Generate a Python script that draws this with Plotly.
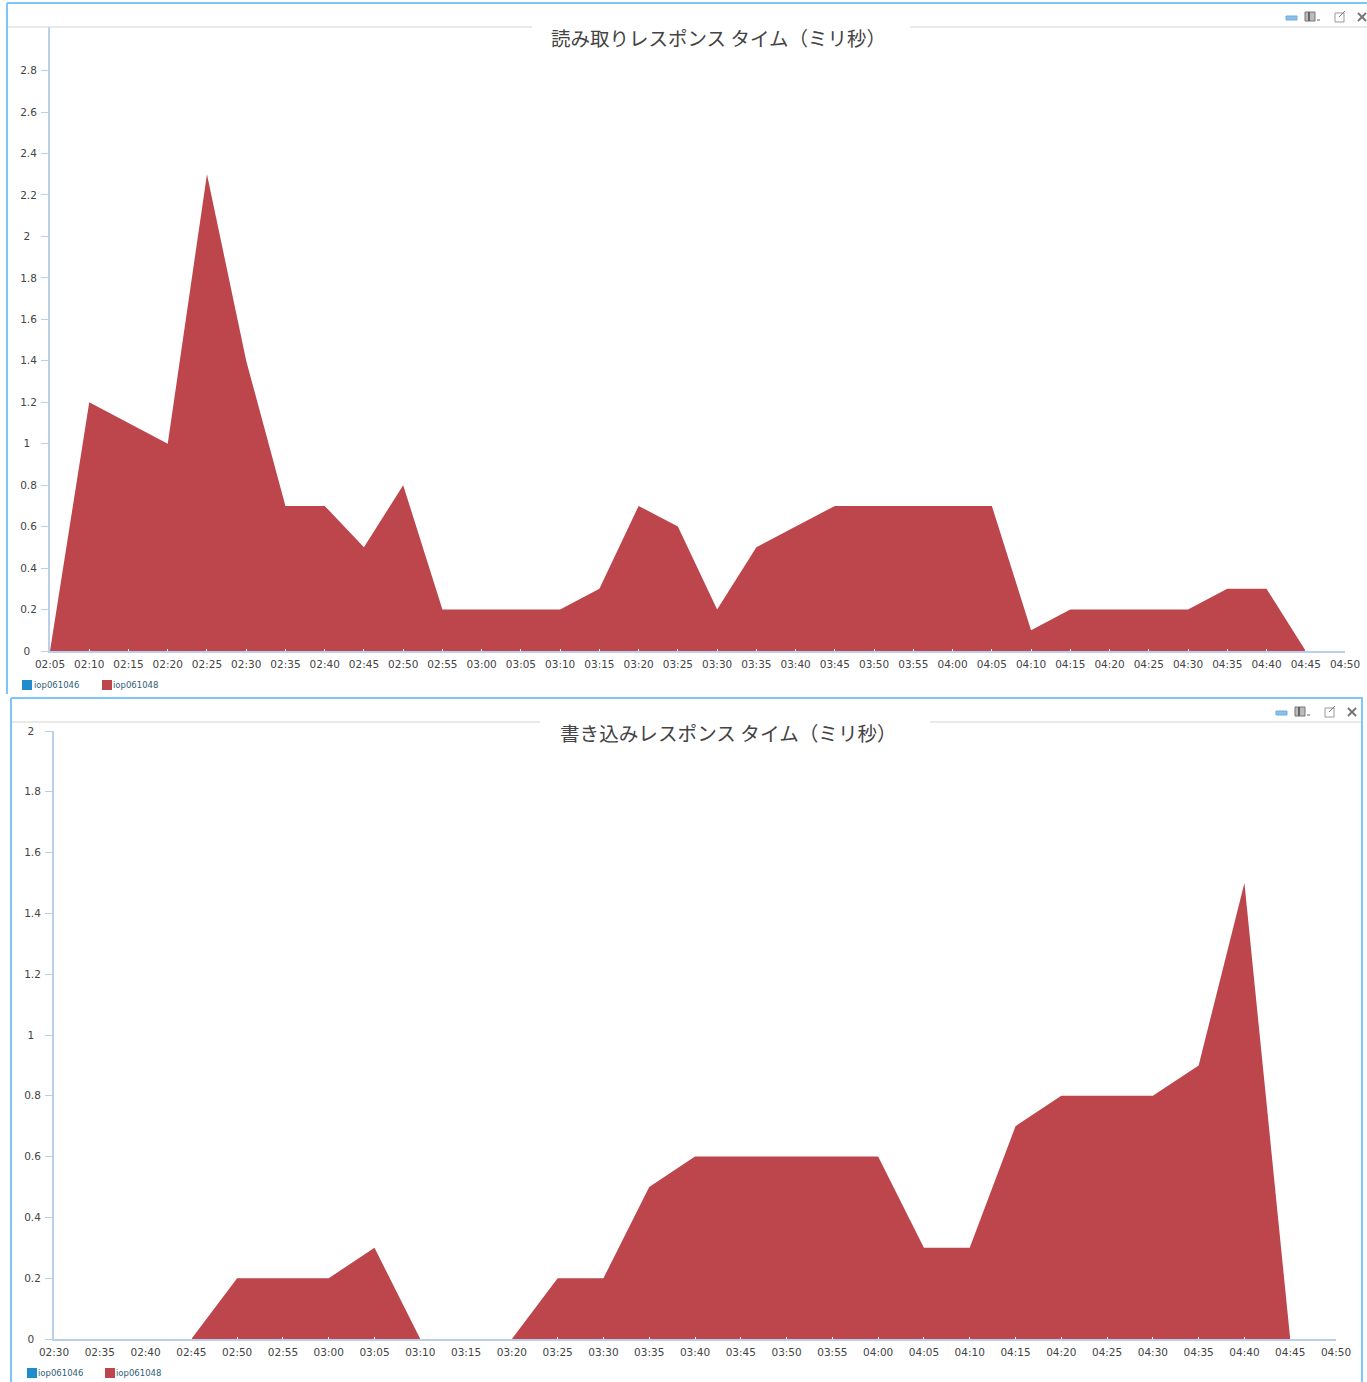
import plotly.graph_objects as go

# read response chart
read_times = ["02:05", "02:10", "02:15", "02:20", "02:25", "02:30", "02:35", "02:40", "02:45", "02:50", "02:55",
              "03:00", "03:05", "03:10", "03:15", "03:20", "03:25", "03:30", "03:35", "03:40", "03:45", "03:50",
              "03:55", "04:00", "04:05", "04:10", "04:15", "04:20", "04:25", "04:30", "04:35", "04:40", "04:45", "04:50"]
read_046 = [0] * 34
read_048 = [0, 1.2, 1.1, 1.0, 2.3, 1.4, 0.7, 0.7, 0.5, 0.8, 0.2,
            0.2, 0.2, 0.2, 0.3, 0.7, 0.6, 0.2, 0.5, 0.6, 0.7, 0.7,
            0.7, 0.7, 0.7, 0.1, 0.2, 0.2, 0.2, 0.2, 0.3, 0.3, 0, 0]
read_ticks = [0, 0.2, 0.4, 0.6, 0.8, 1, 1.2, 1.4, 1.6, 1.8, 2, 2.2, 2.4, 2.6, 2.8]

# write response chart
write_times = ["02:30", "02:35", "02:40", "02:45", "02:50", "02:55",
               "03:00", "03:05", "03:10", "03:15", "03:20", "03:25", "03:30", "03:35", "03:40", "03:45", "03:50",
               "03:55", "04:00", "04:05", "04:10", "04:15", "04:20", "04:25", "04:30", "04:35", "04:40", "04:45", "04:50"]
write_046 = [0] * 29
write_048 = [0, 0, 0, 0, 0.2, 0.2,
             0.2, 0.3, 0, 0, 0, 0.2, 0.2, 0.5, 0.6, 0.6, 0.6,
             0.6, 0.6, 0.3, 0.3, 0.7, 0.8, 0.8, 0.8, 0.9, 1.5, 0, 0]
write_ticks = [0, 0.2, 0.4, 0.6, 0.8, 1, 1.2, 1.4, 1.6, 1.8, 2]

W, H = 1367, 1382
BLUE = "#1F8DCD"
RED = "#BD464C"
AXIS = "#BBD0E8"
FRAME = "#7CC6FA"
HEADER = "#D4D4D4"
TEXT = "#444444"
LEGEND_TEXT = "#2F6076"


def px(x):
    return x / W


def py(y):
    return 1 - y / H


def line(x0, y0, x1, y1, color, width=1):
    return dict(type="line", xref="paper", yref="paper", x0=px(x0), y0=py(y0), x1=px(x1), y1=py(y1),
                line=dict(color=color, width=width))


def rect(x0, y0, x1, y1, fill, color=None):
    return dict(type="rect", xref="paper", yref="paper", x0=px(x0), y0=py(y0), x1=px(x1), y1=py(y1),
                fillcolor=fill, line=dict(color=color or fill, width=1 if color else 0))


def window_icons(dx, dy):
    # minimize, layout, pop-out and close buttons in the panel header
    return [
        rect(1286 + dx, 16 + dy, 1297 + dx, 20 + dy, "#8DBFE6", "#6FAEDF"),
        rect(1305 + dx, 12 + dy, 1315 + dx, 21 + dy, "#BBBBBB", "#777777"),
        line(1309 + dx, 12 + dy, 1309 + dx, 21 + dy, "#666666", 2),
        line(1317 + dx, 20 + dy, 1320 + dx, 20 + dy, "#666666", 1),
        rect(1335 + dx, 13 + dy, 1344 + dx, 22 + dy, "rgba(0,0,0,0)", "#999999"),
        line(1339 + dx, 17 + dy, 1345 + dx, 11 + dy, "#777777", 1),
        line(1358 + dx, 13 + dy, 1366 + dx, 21 + dy, "#777777", 2),
        line(1358 + dx, 21 + dy, 1366 + dx, 13 + dy, "#777777", 2),
    ]


def legend_marks(x_blue, x_red, y):
    # swatches of the two series under each chart
    return [rect(x_blue, y - 5, x_blue + 10, y + 5, BLUE), rect(x_red, y - 5, x_red + 10, y + 5, RED)]


def note(text, x, y, size, color, family="DejaVu Sans", anchor="left"):
    return dict(text=text, x=px(x), y=py(y), xref="paper", yref="paper", showarrow=False, xanchor=anchor,
                yanchor="middle", font=dict(size=size, color=color, family=family))


def tick_text(value):
    # the source centres its y labels, so pad the short ones on the right
    text = str(value)
    return text + "\u00a0\u00a0" if len(text) == 1 else text


fig = go.Figure()
fig.add_trace(go.Scatter(x=read_times, y=read_046, name="iop061046", mode="lines", fill="tozeroy", fillcolor=BLUE,
                         line=dict(width=0, color=BLUE), xaxis="x", yaxis="y"))
fig.add_trace(go.Scatter(x=read_times, y=read_048, name="iop061048", mode="lines", fill="tozeroy", fillcolor=RED,
                         line=dict(width=0, color=RED), xaxis="x", yaxis="y"))
fig.add_trace(go.Scatter(x=write_times, y=write_046, name="iop061046", mode="lines", fill="tozeroy", fillcolor=BLUE,
                         line=dict(width=0, color=BLUE), xaxis="x2", yaxis="y2"))
fig.add_trace(go.Scatter(x=write_times, y=write_048, name="iop061048", mode="lines", fill="tozeroy", fillcolor=RED,
                         line=dict(width=0, color=RED), xaxis="x2", yaxis="y2"))


def x_axis(anchor, left, right, n):
    return dict(anchor=anchor, domain=[px(left), px(right)], type="category", range=[0, n - 1], automargin=False,
                showgrid=False, zeroline=False, showline=True, linecolor=AXIS, linewidth=2,
                ticks="inside", ticklen=2, tickcolor="white", tickwidth=1, tickangle=0,
                tickmode="linear", dtick=1, ticklabelstandoff=2,
                tickfont=dict(size=10.5, color=TEXT, family="DejaVu Sans"))


def y_axis(anchor, top, bottom, top_value, ticks):
    return dict(anchor=anchor, domain=[py(bottom), py(top)], range=[0, top_value], automargin=False,
                showgrid=False, zeroline=False, showline=True, linecolor=AXIS, linewidth=2,
                ticks="outside", ticklen=7, tickcolor=AXIS, tickwidth=1, ticklabelstandoff=2,
                tickmode="array", tickvals=ticks, ticktext=[tick_text(v) for v in ticks],
                tickfont=dict(size=10.5, color=TEXT, family="DejaVu Sans"))


shapes = [
    # top panel frame
    line(7, 3, 1367, 3, FRAME, 2), line(7, 3, 7, 694, FRAME, 2),
    line(8, 27, 532, 27, HEADER, 1), line(910, 27, 1367, 27, HEADER, 1),
    # bottom panel frame
    line(11, 698, 1363, 698, FRAME, 2), line(11, 698, 11, 1382, FRAME, 2), line(1362, 698, 1362, 1382, FRAME, 2),
    line(12, 722, 540, 722, HEADER, 1), line(930, 722, 1361, 722, HEADER, 1),
] + window_icons(0, 0) + window_icons(-10, 695) + legend_marks(22, 102, 685) + legend_marks(27, 105, 1373)

annotations = [
    note("読み取りレスポンス タイム（ミリ秒）", 718, 38, 19.5, TEXT, "Noto Sans CJK JP", "center"),
    note("書き込みレスポンス タイム（ミリ秒）", 728, 732, 19.6, TEXT, "Noto Sans CJK JP", "center"),
    note("iop061046", 32, 685, 8.5, LEGEND_TEXT), note("iop061048", 111, 685, 8.5, LEGEND_TEXT),
    note("iop061046", 36, 1373, 8.5, LEGEND_TEXT), note("iop061048", 114, 1373, 8.5, LEGEND_TEXT),
]

fig.update_layout(
    width=W, height=H,
    margin=dict(l=0, r=0, t=0, b=0),
    paper_bgcolor="white", plot_bgcolor="white",
    showlegend=False,
    xaxis=x_axis("y", 50, 1345, len(read_times)),
    yaxis=y_axis("x", 27, 651, 3.01, read_ticks),
    xaxis2=x_axis("y2", 54, 1336, len(write_times)),
    yaxis2=y_axis("x2", 731, 1339, 2, write_ticks),
    shapes=shapes,
    annotations=annotations,
)
fig.write_html("out.html", config={"displayModeBar": False}, post_script="document.body.style.margin='0';")
